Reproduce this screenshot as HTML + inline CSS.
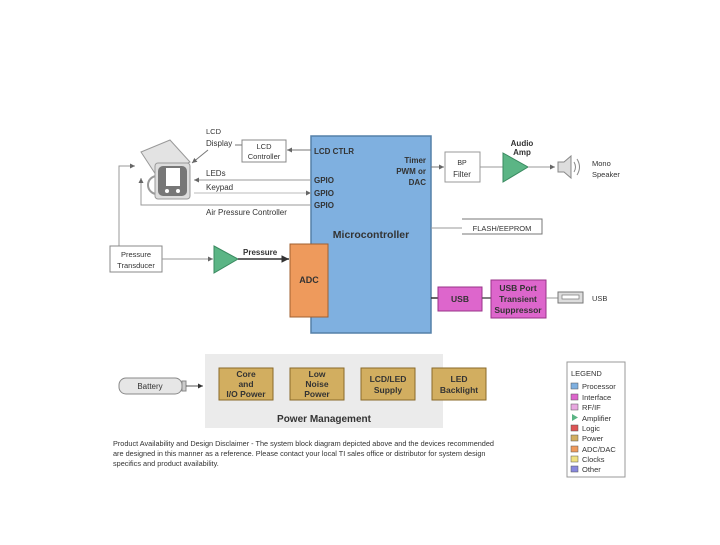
<!DOCTYPE html>
<html><head><meta charset="utf-8"><style>
body{margin:0;background:#fff;width:720px;height:540px;overflow:hidden}
text{font-family:"Liberation Sans",sans-serif;fill:#333}
</style></head><body>
<svg width="720" height="540" viewBox="0 0 720 540" xmlns="http://www.w3.org/2000/svg">
<defs>
<marker id="a" markerWidth="6" markerHeight="6" refX="5" refY="3" orient="auto"><path d="M0,0.5 L5,3 L0,5.5Z" fill="#666"/></marker>
<marker id="b" markerWidth="6" markerHeight="6" refX="5" refY="3" orient="auto"><path d="M0,0.5 L5,3 L0,5.5Z" fill="#333"/></marker>
</defs>
<g>
<path d="M141,152 L170,140 L190,162 L158,178 Z" fill="#e3e3e3" stroke="#999"/>
<circle cx="157" cy="185" r="9" fill="none" stroke="#999" stroke-width="2"/>
<rect x="155" y="163" width="35" height="36" rx="3" fill="#ddd" stroke="#999"/>
<rect x="158" y="166" width="29" height="30" rx="5" fill="#777"/>
<rect x="166" y="168" width="14" height="18" fill="#fff"/>
<circle cx="167" cy="191" r="2" fill="#fff"/><circle cx="178" cy="191" r="2" fill="#fff"/>
</g>
<rect x="311" y="136" width="120" height="197" fill="#7fb0e0" stroke="#5580a8" stroke-width="1.5"/>
<rect x="290" y="244" width="38" height="73" fill="#ee9a5c" stroke="#a06030"/>
<text x="309" y="283" font-size="9" font-weight="bold" text-anchor="middle">ADC</text>
<text x="371" y="238" font-size="10.5" font-weight="bold" text-anchor="middle">Microcontroller</text>
<g font-size="8" font-weight="bold">
<text x="314" y="154">LCD CTLR</text>
<text x="314" y="183">GPIO</text>
<text x="314" y="196">GPIO</text>
<text x="314" y="208">GPIO</text>
<text x="426" y="163" text-anchor="end">Timer</text>
<text x="426" y="174" text-anchor="end">PWM or</text>
<text x="426" y="185" text-anchor="end">DAC</text>
</g>
<rect x="242" y="140" width="44" height="22" fill="#fff" stroke="#888"/>
<text x="264" y="149" font-size="7.5" text-anchor="middle">LCD</text>
<text x="264" y="159" font-size="7.5" text-anchor="middle">Controller</text>
<line x1="311" y1="150" x2="287" y2="150" stroke="#777" marker-end="url(#a)"/>
<line x1="242" y1="145" x2="235" y2="145" stroke="#777"/>
<line x1="208" y1="150" x2="192" y2="163" stroke="#777" marker-end="url(#a)"/>
<text x="206" y="134" font-size="7.5">LCD</text>
<text x="206" y="146" font-size="8">Display</text>
<g font-size="8" fill="#333">
<text x="206" y="176">LEDs</text>
<text x="206" y="190">Keypad</text>
<text x="206" y="215">Air Pressure Controller</text>
</g>
<line x1="311" y1="180" x2="194" y2="180" stroke="#999" marker-end="url(#a)"/>
<line x1="194" y1="193" x2="311" y2="193" stroke="#bbb" marker-end="url(#a)"/>
<polyline points="311,205 141,205 141,178" fill="none" stroke="#999" marker-end="url(#a)"/>
<polyline points="119,246 119,166 135,166" fill="none" stroke="#999" marker-end="url(#a)"/>
<rect x="110" y="246" width="52" height="26" fill="#fff" stroke="#888"/>
<text x="136" y="257" font-size="7.5" text-anchor="middle">Pressure</text>
<text x="136" y="268" font-size="7.5" text-anchor="middle">Transducer</text>
<line x1="162" y1="259" x2="213" y2="259" stroke="#999" marker-end="url(#a)"/>
<path d="M214,246 L238,259 L214,273Z" fill="#5bb585" stroke="#3a8a60"/>
<line x1="238" y1="259" x2="289" y2="259" stroke="#333" stroke-width="1.5" marker-end="url(#b)"/>
<text x="243" y="255" font-size="8" font-weight="bold">Pressure</text>
<line x1="431" y1="167" x2="444" y2="167" stroke="#777" marker-end="url(#a)"/>
<rect x="445" y="152" width="35" height="30" fill="#fff" stroke="#999"/>
<text x="462" y="165" font-size="7" text-anchor="middle">BP</text>
<text x="462" y="177" font-size="8" text-anchor="middle">Filter</text>
<line x1="480" y1="167" x2="503" y2="167" stroke="#999"/>
<path d="M503,153 L528,167 L503,182Z" fill="#5bb585" stroke="#3a8a60"/>
<text x="522" y="146" font-size="8" font-weight="bold" text-anchor="middle">Audio</text>
<text x="522" y="155" font-size="8" font-weight="bold" text-anchor="middle">Amp</text>
<line x1="528" y1="167" x2="555" y2="167" stroke="#999" marker-end="url(#a)"/>
<path d="M558,162 L564,162 L571,156 L571,178 L564,172 L558,172Z" fill="#ddd" stroke="#888"/>
<path d="M574,162 Q577,167 574,172 M577,159 Q582,167 577,175" fill="none" stroke="#888"/>
<text x="592" y="166" font-size="7.5">Mono</text>
<text x="592" y="177" font-size="7.5">Speaker</text>
<line x1="431" y1="228" x2="462" y2="228" stroke="#999"/>
<polyline points="462,219 542,219 542,234 462,234" fill="none" stroke="#777"/>
<text x="502" y="231" font-size="7.5" text-anchor="middle">FLASH/EEPROM</text>
<line x1="431" y1="298" x2="438" y2="298" stroke="#333" stroke-width="1.5"/>
<rect x="438" y="287" width="44" height="24" fill="#dd66cc" stroke="#993388"/>
<text x="460" y="302" font-size="8.5" font-weight="bold" text-anchor="middle">USB</text>
<line x1="482" y1="298" x2="491" y2="298" stroke="#555" stroke-width="1.5"/>
<rect x="491" y="280" width="55" height="38" fill="#dd66cc" stroke="#993388"/>
<g font-size="8.5" font-weight="bold" text-anchor="middle"><text x="518" y="291">USB Port</text><text x="518" y="302">Transient</text><text x="518" y="313">Suppressor</text></g>
<line x1="546" y1="298" x2="558" y2="298" stroke="#999"/>
<rect x="558" y="292" width="25" height="11" fill="#ddd" stroke="#777"/>
<rect x="562" y="295" width="17" height="4" fill="#fff" stroke="#777" stroke-width="0.7"/>
<text x="592" y="301" font-size="7.5">USB</text>
<rect x="205" y="354" width="238" height="74" fill="#ebebeb"/>
<g font-size="8.5" font-weight="bold" text-anchor="middle">
<rect x="219" y="368" width="54" height="32" fill="#d2ae60" stroke="#8a6a2a"/>
<text x="246" y="377">Core</text><text x="246" y="387">and</text><text x="246" y="397">I/O Power</text>
<rect x="290" y="368" width="54" height="32" fill="#d2ae60" stroke="#8a6a2a"/>
<text x="317" y="377">Low</text><text x="317" y="387">Noise</text><text x="317" y="397">Power</text>
<rect x="361" y="368" width="54" height="32" fill="#d2ae60" stroke="#8a6a2a"/>
<text x="388" y="382">LCD/LED</text><text x="388" y="393">Supply</text>
<rect x="432" y="368" width="54" height="32" fill="#d2ae60" stroke="#8a6a2a"/>
<text x="459" y="382">LED</text><text x="459" y="393">Backlight</text>
<text x="324" y="422" font-size="10">Power Management</text>
</g>
<rect x="119" y="378" width="63" height="16" rx="7" fill="#e6e6e6" stroke="#888"/>
<rect x="182" y="381" width="4" height="10" fill="#ccc" stroke="#888"/>
<text x="150" y="389" font-size="8" text-anchor="middle">Battery</text>
<line x1="186" y1="386" x2="203" y2="386" stroke="#555" marker-end="url(#b)"/>
<g font-size="7.3" fill="#444">
<text x="113" y="446">Product Availability and Design Disclaimer - The system block diagram depicted above and the devices recommended</text>
<text x="113" y="456">are designed in this manner as a reference. Please contact your local TI sales office or distributor for system design</text>
<text x="113" y="466">specifics and product availability.</text>
</g>
<rect x="567" y="362" width="58" height="115" fill="#fff" stroke="#999"/>
<g font-size="7.5">
<text x="571" y="376">LEGEND</text>
<rect x="571" y="383" width="7" height="6" fill="#7fb0e0" stroke="#555" stroke-width=".5"/><text x="582" y="389">Processor</text>
<rect x="571" y="394" width="7" height="6" fill="#dd66cc" stroke="#555" stroke-width=".5"/><text x="582" y="400">Interface</text>
<rect x="571" y="404" width="7" height="6" fill="#e8a8e0" stroke="#555" stroke-width=".5"/><text x="582" y="410">RF/IF</text>
<path d="M572,414 L578,417.5 L572,421Z" fill="#5bb585"/><text x="582" y="421">Amplifier</text>
<rect x="571" y="425" width="7" height="6" fill="#dd5555" stroke="#555" stroke-width=".5"/><text x="582" y="431">Logic</text>
<rect x="571" y="435" width="7" height="6" fill="#d2ae60" stroke="#555" stroke-width=".5"/><text x="582" y="441">Power</text>
<rect x="571" y="446" width="7" height="6" fill="#ee9a5c" stroke="#555" stroke-width=".5"/><text x="582" y="452">ADC/DAC</text>
<rect x="571" y="456" width="7" height="6" fill="#eee080" stroke="#555" stroke-width=".5"/><text x="582" y="462">Clocks</text>
<rect x="571" y="466" width="7" height="6" fill="#8888dd" stroke="#555" stroke-width=".5"/><text x="582" y="472">Other</text>
</g>
</svg>
</body></html>
